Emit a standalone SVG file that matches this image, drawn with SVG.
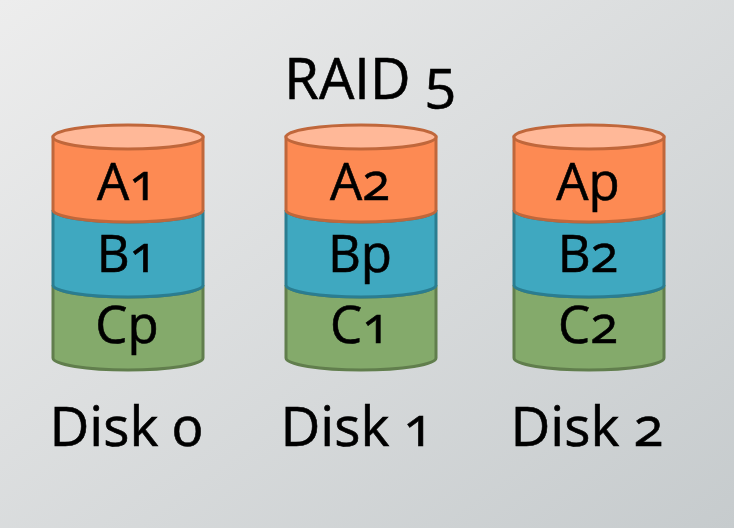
<svg xmlns="http://www.w3.org/2000/svg" width="734" height="528" viewBox="0 0 734 528">
  <defs>
    <linearGradient id="bg" x1="0" y1="0" x2="1" y2="1">
      <stop offset="0" stop-color="#ededed"/>
      <stop offset="1" stop-color="#c6cbcd"/>
    </linearGradient>
  </defs>
  <style>
    .lbl { font-family: "Open Sans", "DejaVu Sans", sans-serif; fill: #000; text-anchor: middle; font-variant-numeric: oldstyle-nums; font-feature-settings: "onum" 1; stroke: #000; stroke-width: 0.6; }
    .seg { font-size: 51px; }
    .disk { font-size: 55px; }
    .title { font-size: 56px; }
    .a { fill: #fd8a53; stroke: #c0673b; stroke-width: 3; }
    .atop { fill: #ffb898; stroke: #c0673b; stroke-width: 3; }
    .b { fill: #3fa8c0; stroke: #2b7d90; stroke-width: 3; }
    .c { fill: #84aa6b; stroke: #617e4d; stroke-width: 3; }
  </style>

  <rect width="734" height="528" fill="url(#bg)"/>

  <text class="lbl title" x="370" y="99">RAID 5</text>

  <!-- Disk 0 -->
  <g id="disk0">
    <path class="c" d="M53,285 L53,358 A75,12 0 0 0 203,358 L203,285 A75,12 0 0 1 53,285 Z"/>
    <path class="b" d="M53,210 L53,285 A75,12 0 0 0 203,285 L203,210 A75,12 0 0 1 53,210 Z"/>
    <path class="a" d="M53,137 L53,210 A75,12 0 0 0 203,210 L203,137 Z"/>
    <ellipse class="atop" cx="128" cy="137" rx="75" ry="12"/>
    <text class="lbl seg" x="127" y="200">A1</text>
    <text class="lbl seg" x="127" y="272">B1</text>
    <text class="lbl seg" x="127" y="343">Cp</text>
    <text class="lbl disk" x="126" y="446">Disk 0</text>
  </g>

  <!-- Disk 1 -->
  <g id="disk1">
    <path class="c" d="M286,285 L286,358 A75,12 0 0 0 436,358 L436,285 A75,12 0 0 1 286,285 Z"/>
    <path class="b" d="M286,210 L286,285 A75,12 0 0 0 436,285 L436,210 A75,12 0 0 1 286,210 Z"/>
    <path class="a" d="M286,137 L286,210 A75,12 0 0 0 436,210 L436,137 Z"/>
    <ellipse class="atop" cx="361" cy="137" rx="75" ry="12"/>
    <text class="lbl seg" x="360" y="200">A2</text>
    <text class="lbl seg" x="360" y="272">Bp</text>
    <text class="lbl seg" x="360" y="343">C1</text>
    <text class="lbl disk" x="357" y="446">Disk 1</text>
  </g>

  <!-- Disk 2 -->
  <g id="disk2">
    <path class="c" d="M514,285 L514,358 A75,12 0 0 0 664,358 L664,285 A75,12 0 0 1 514,285 Z"/>
    <path class="b" d="M514,210 L514,285 A75,12 0 0 0 664,285 L664,210 A75,12 0 0 1 514,210 Z"/>
    <path class="a" d="M514,137 L514,210 A75,12 0 0 0 664,210 L664,137 Z"/>
    <ellipse class="atop" cx="589" cy="137" rx="75" ry="12"/>
    <text class="lbl seg" x="588" y="200">Ap</text>
    <text class="lbl seg" x="588" y="272">B2</text>
    <text class="lbl seg" x="588" y="343">C2</text>
    <text class="lbl disk" x="587" y="446">Disk 2</text>
  </g>

  <g id="connectors"/>
</svg>
